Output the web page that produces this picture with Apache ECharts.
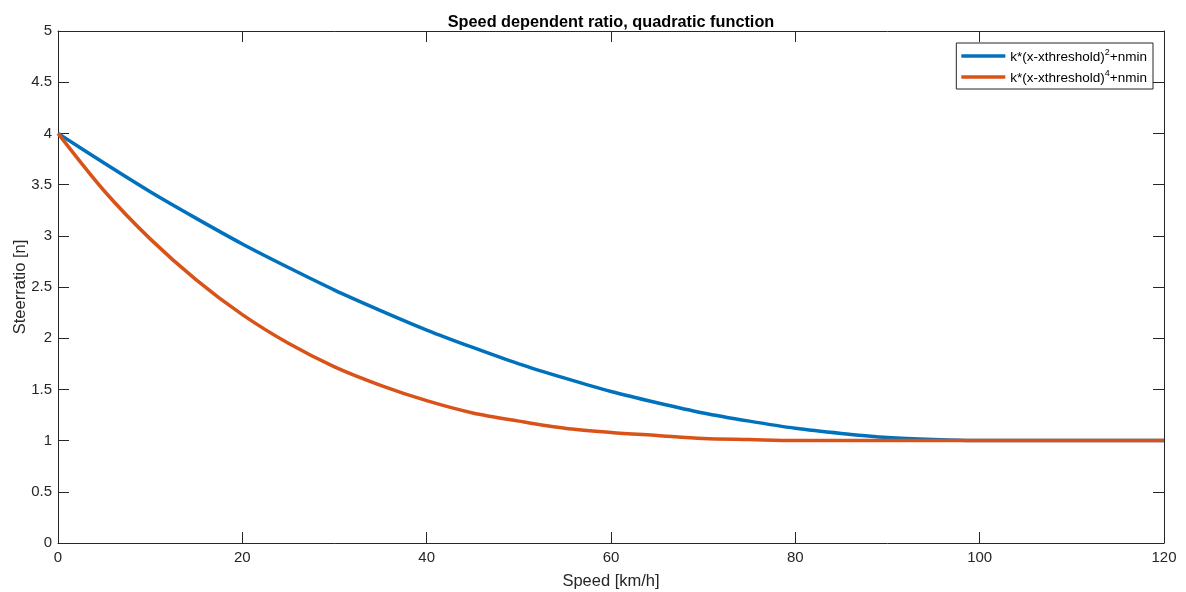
<!DOCTYPE html>
<html>
<head>
<meta charset="utf-8">
<script src="https://cdn.jsdelivr.net/npm/echarts@6/dist/echarts.min.js"></script>
<style>
  html, body { margin: 0; padding: 0; background: #fff; }
  #chart { width: 1186px; height: 592px; }
</style>
</head>
<body>
<div id="chart"></div>
<script>
  // speed samples (km/h) and the two ratio curves
  let speed = [0, 5, 10, 15, 20, 25, 30, 35, 40, 45, 50, 55, 60, 65, 70, 75, 80, 85, 90, 95, 100, 105, 110, 115, 120];
  let ratioSquare = [4.00, 3.71, 3.43, 3.17, 2.92, 2.69, 2.47, 2.27, 2.08, 1.91, 1.75, 1.61, 1.48, 1.37, 1.27, 1.19, 1.12, 1.07, 1.03, 1.01, 1.00, 1.00, 1.00, 1.00, 1.00];
  let ratioQuartic = [4.00, 3.44, 2.97, 2.57, 2.23, 1.95, 1.72, 1.54, 1.39, 1.27, 1.19, 1.12, 1.08, 1.05, 1.02, 1.01, 1.00, 1.00, 1.00, 1.00, 1.00, 1.00, 1.00, 1.00, 1.00];
  let xTicks = [0, 20, 40, 60, 80, 100, 120];
  let yTicks = [0, 0.5, 1, 1.5, 2, 2.5, 3, 3.5, 4, 4.5, 5];

  let chart = echarts.init(document.getElementById('chart'));

  const axisColor = '#262626';
  const font = 'Liberation Sans, Arial, sans-serif';

  let pairs = (ys) => speed.map((x, i) => [x, ys[i]]);

  let baseX = {
    type: 'value', min: 0, max: 120, interval: 20,
    axisLine: { show: true, onZero: false, lineStyle: { color: axisColor, width: 1 } },
    axisTick: { show: true, inside: true, length: 11, lineStyle: { color: axisColor } },
    splitLine: { show: false }
  };
  let baseY = {
    type: 'value', min: 0, max: 5, interval: 0.5,
    axisLine: { show: true, onZero: false, lineStyle: { color: axisColor, width: 1 } },
    axisTick: { show: true, inside: true, length: 11, lineStyle: { color: axisColor } },
    splitLine: { show: false }
  };

  let option = {
    backgroundColor: '#fff',
    animation: false,
    title: {
      text: 'Speed dependent ratio, quadratic function',
      left: 606, top: 10, textAlign: 'center',
      textStyle: { fontFamily: font, fontSize: 16.3, fontWeight: 'bold', color: '#000' }
    },
    grid: { left: 58, right: 22, top: 31, bottom: 49, outerBoundsMode: 'none' },
    legend: {
      right: 33, top: 43,
      orient: 'vertical',
      icon: 'rect',
      itemWidth: 44, itemHeight: 3.5, itemGap: 5,
      padding: [5, 6, 4, 5],
      borderColor: axisColor, borderWidth: 1,
      backgroundColor: '#fff',
      textStyle: {
        fontFamily: font, fontSize: 13.5, color: '#000',
        rich: {
          b: { fontFamily: font, fontSize: 13.5, color: '#000', lineHeight: 16, verticalAlign: 'bottom' },
          s: { fontFamily: font, fontSize: 9, color: '#000', lineHeight: 9, verticalAlign: 'top' }
        }
      },
      formatter: (name) => name === 'sq'
        ? '{b|k*(x-xthreshold)}{s|2}{b|+nmin}'
        : '{b|k*(x-xthreshold)}{s|4}{b|+nmin}',
      data: ['sq', 'qu']
    },
    xAxis: [
      Object.assign({}, baseX, {
        position: 'bottom',
        name: 'Speed [km/h]', nameLocation: 'middle', nameGap: 30, nameMoveOverlap: false,
        nameTextStyle: { fontFamily: font, fontSize: 16.5, color: axisColor },
        axisLabel: {
          fontFamily: font, fontSize: 15, color: axisColor, margin: 7,
          formatter: (v) => xTicks.includes(v) ? String(v) : ''
        }
      }),
      Object.assign({}, baseX, { position: 'top', axisLabel: { show: false } })
    ],
    yAxis: [
      Object.assign({}, baseY, {
        position: 'left',
        name: 'Steerratio [n]', nameLocation: 'middle', nameGap: 29, nameRotate: 90, nameMoveOverlap: false,
        nameTextStyle: { fontFamily: font, fontSize: 16.5, color: axisColor },
        axisLabel: {
          fontFamily: font, fontSize: 15, color: axisColor, margin: 6,
          formatter: (v) => yTicks.includes(v) ? String(v) : ''
        }
      }),
      Object.assign({}, baseY, { position: 'right', axisLabel: { show: false } })
    ],
    series: [
      {
        name: 'sq', type: 'line', data: pairs(ratioSquare),
        smooth: 0.3, showSymbol: false,
        lineStyle: { color: '#0072BD', width: 3.5 },
        itemStyle: { color: '#0072BD' }, z: 2
      },
      {
        name: 'qu', type: 'line', data: pairs(ratioQuartic),
        smooth: 0.3, showSymbol: false,
        lineStyle: { color: '#D95319', width: 3.5 },
        itemStyle: { color: '#D95319' }, z: 3
      }
    ]
  };

  chart.setOption(option);
</script>
</body>
</html>
